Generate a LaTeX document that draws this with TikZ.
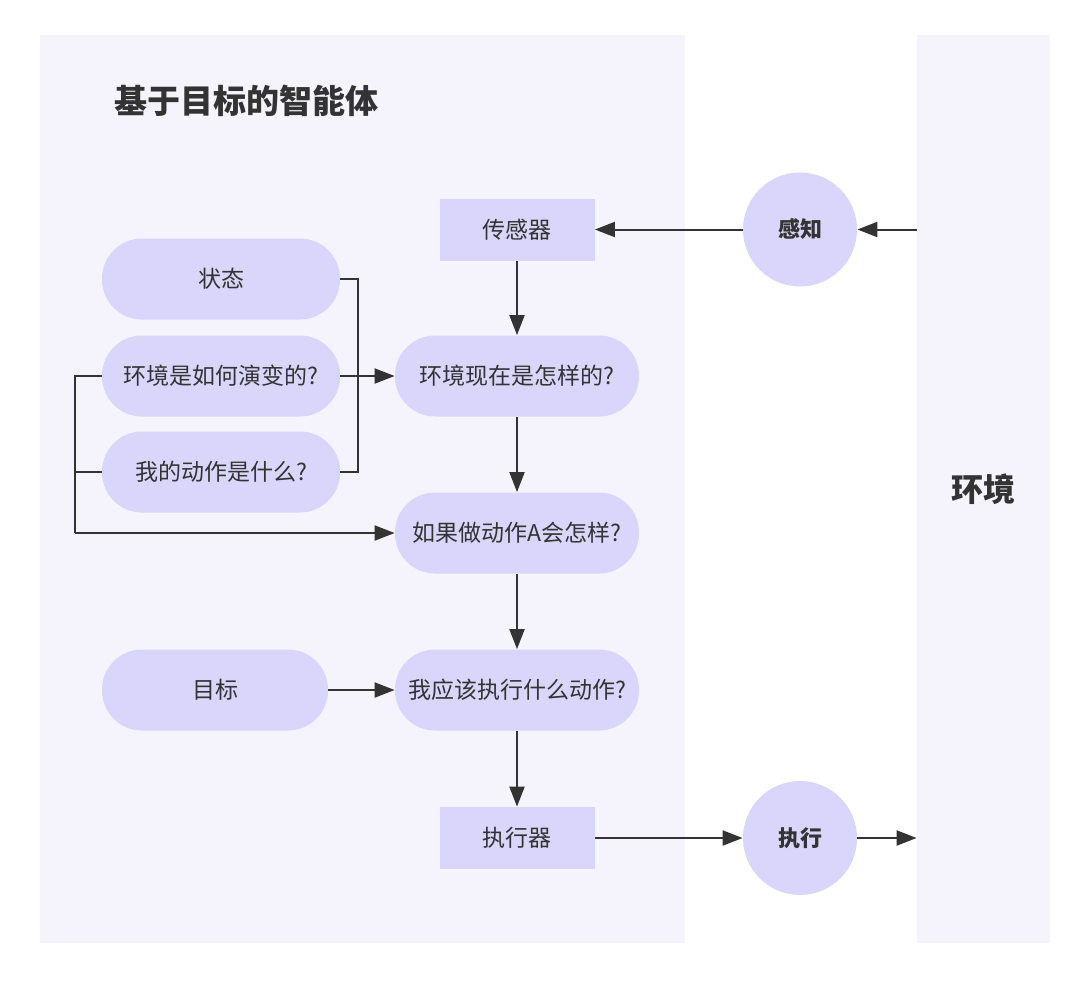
\documentclass[tikz,border=0pt]{standalone}
\usepackage{fontspec}
\setmainfont{Noto Sans CJK SC}
\usetikzlibrary{arrows.meta}
\definecolor{panel}{HTML}{F5F4FD}
\definecolor{nodefill}{HTML}{DAD5FA}
\definecolor{ink}{HTML}{333333}
\begin{document}
\begin{tikzpicture}[x=0.5pt,y=-0.5pt,
  panelbox/.style={fill=panel, draw=none, inner sep=0pt, text=ink},
  pill/.style={fill=nodefill, rounded corners=20pt, minimum height=40.5pt, inner sep=0pt, text=ink, font=\fontsize{11.5}{13}\selectfont},
  pillL/.style={pill, minimum width=119pt},
  pillR/.style={pill, minimum width=122pt},
  devbox/.style={fill=nodefill, minimum width=77.5pt, minimum height=31pt, inner sep=0pt, text=ink, font=\fontsize{11.5}{13}\selectfont},
  ball/.style={circle, fill=nodefill, minimum size=57pt, inner sep=0pt, text=ink, font=\fontsize{11}{13}\selectfont\bfseries},
  link/.style={draw=ink, line width=1pt},
  arr/.style={link, -{Triangle[length=10pt,width=7.5pt]}}
]
\useasboundingbox[fill=white] (0,0) rectangle (1080,986);
% panels
\node[panelbox, minimum width=322.5pt, minimum height=454pt] (agent) at (362.5,489) {};
\node[panelbox, minimum width=66.5pt, minimum height=454pt, font=\fontsize{16}{19}\selectfont\bfseries] (env) at (983.5,489) {环境};
\node[anchor=west, text=ink, inner sep=0pt, font=\fontsize{16.5}{20}\selectfont\bfseries] (title) at (114,101) {基于目标的智能体};
% nodes
\node[devbox] (sensor) at (517,229.5) {传感器};
\node[ball] (perceive) at (800,229.5) {感知};
\node[pillL] (state) at (221,279) {状态};
\node[pillL] (evolve) at (221,376) {环境是如何演变的?};
\node[pillL] (act) at (221,472) {我的动作是什么?};
\node[pillR] (now) at (517,376) {环境现在是怎样的?};
\node[pillR] (ifA) at (517,533) {如果做动作A会怎样?};
\node[pill, minimum width=113pt] (goal) at (215,690) {目标};
\node[pillR] (should) at (517,690) {我应该执行什么动作?};
\node[devbox] (actuator) at (517,838) {执行器};
\node[ball] (execute) at (800,838) {执行};
% junctions
\coordinate (j1) at (358,376);
\coordinate (j2) at (75,533);
% connectors
\draw[arr] (env.west |- perceive) -- (perceive.east);
\draw[arr] (perceive.west) -- (sensor.east);
\draw[arr] (sensor.south) -- (now.north);
\draw[link] (state.east) -| (j1);
\draw[link] (act.east) -| (j1);
\draw[arr] (evolve.east) -- (now.west);
\draw[link] (evolve.west) -| (j2);
\draw[link] (act.west) -| (j2);
\draw[arr] (j2) -- (ifA.west);
\draw[arr] (now.south) -- (ifA.north);
\draw[arr] (ifA.south) -- (should.north);
\draw[arr] (goal.east) -- (should.west);
\draw[arr] (should.south) -- (actuator.north);
\draw[arr] (actuator.east) -- (execute.west);
\draw[arr] (execute.east) -- (env.west |- execute);
\end{tikzpicture}
\end{document}
